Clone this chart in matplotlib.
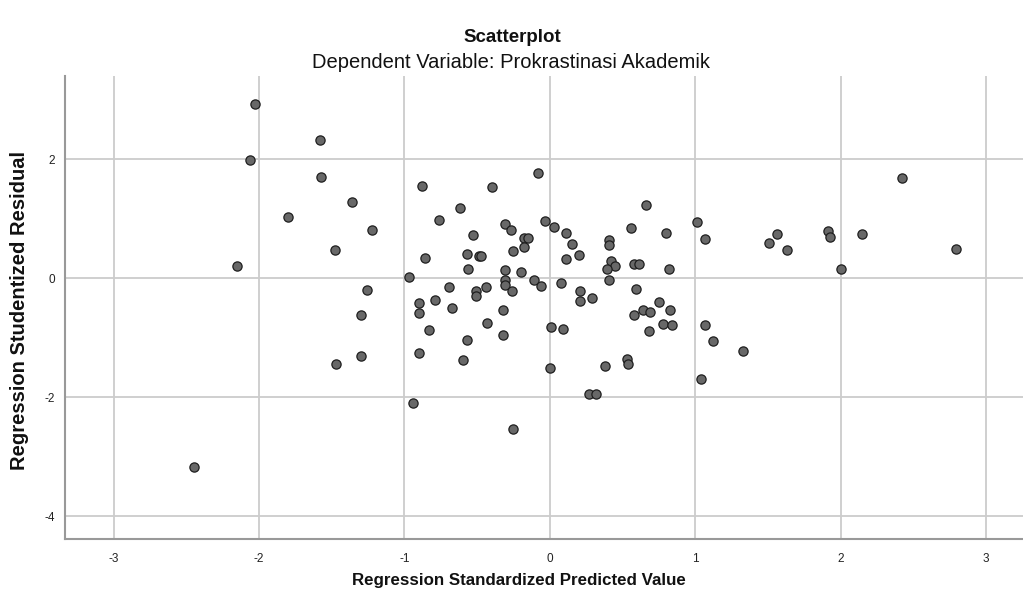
import matplotlib
matplotlib.use("Agg")
import matplotlib.pyplot as plt

plt.rcParams["font.family"] = ["Liberation Sans", "DejaVu Sans"]
plt.rcParams["axes.unicode_minus"] = False

# standardized predicted value (x) and studentized residual (y)
pred = [
    -2.03, -1.58, -2.06, -1.57, -1.36, -1.80, -1.22, -1.48, -2.15, -0.97,
    -1.26, -0.88, -0.08, -0.40, -0.62, 0.66, -0.76, -0.03, 0.03, -0.31,
    -0.27, 0.11, 0.56, 1.01, 0.80, 1.07, -0.53, -0.18, -0.15, 0.15,
    0.41, 0.41, -0.18, -0.25, -0.86, -0.57, -0.49, -0.47, 0.20, 0.11,
    0.42, 0.45, 0.39, 0.58, 0.61, 0.82, -0.56, -0.31, -0.20, -0.31,
    -0.11, -0.31, -0.06, 0.08, 0.41, -0.69, -0.44, -0.51, -0.51, -0.26,
    0.21, 0.59, 0.21, 0.29, -0.90, -0.79, 0.75, -0.90, -0.67, -0.83,
    -0.43, -0.32, -0.57, -0.32, -0.90, -0.60, 0.01, 0.09, 0.00, 0.58,
    0.64, 0.69, 0.83, 0.78, 0.84, 0.68, 0.38, 0.53, 0.54, 0.27,
    0.32, -0.25, -0.94, 1.07, 1.12, 1.33, 1.04, -1.30, -1.30, -1.47,
    -2.45, 2.42, 1.56, 1.51, 1.63, 1.91, 1.93, 2.15, 2.00, 2.79,
]
resid = [
    2.94, 2.32, 1.99, 1.71, 1.29, 1.03, 0.81, 0.48, 0.21, 0.03,
    -0.20, 1.56, 1.77, 1.53, 1.19, 1.23, 0.98, 0.97, 0.87, 0.91,
    0.81, 0.76, 0.85, 0.95, 0.77, 0.66, 0.73, 0.68, 0.68, 0.57,
    0.64, 0.56, 0.52, 0.46, 0.34, 0.41, 0.38, 0.38, 0.39, 0.33,
    0.30, 0.21, 0.15, 0.25, 0.25, 0.16, 0.15, 0.14, 0.10, -0.03,
    -0.02, -0.11, -0.12, -0.08, -0.03, -0.15, -0.15, -0.21, -0.30, -0.21,
    -0.21, -0.18, -0.38, -0.33, -0.41, -0.37, -0.40, -0.58, -0.49, -0.86,
    -0.75, -0.53, -1.04, -0.96, -1.26, -1.37, -0.82, -0.85, -1.50, -0.61,
    -0.54, -0.57, -0.53, -0.76, -0.78, -0.89, -1.47, -1.35, -1.44, -1.95,
    -1.95, -2.54, -2.10, -0.79, -1.06, -1.22, -1.70, -0.61, -1.30, -1.44,
    -3.17, 1.69, 0.75, 0.60, 0.48, 0.80, 0.70, 0.75, 0.16, 0.49,
]
x_ticks = [-3, -2, -1, 0, 1, 2, 3]
y_ticks = [-4, -2, 0, 2]

fig = plt.figure(figsize=(10.23, 6.0), dpi=100)
ax = fig.add_axes([0.0635, 0.101, 0.9365, 0.772])

ax.scatter(pred, resid, s=44, facecolor="#686868", edgecolor="#1e1e1e",
           linewidth=0.9, zorder=3)

ax.set_xlim(-3.334, 3.254)
ax.set_ylim(-4.39, 3.40)
ax.set_xticks(x_ticks)
ax.set_yticks(y_ticks)
ax.grid(True, color="#cccccc", linewidth=1.3, zorder=0)
ax.tick_params(axis="x", length=0, labelsize=8.5, labelcolor="#222222", pad=10)
ax.tick_params(axis="y", length=0, labelsize=8.5, labelcolor="#222222", pad=7)

for side in ["top", "right"]:
    ax.spines[side].set_visible(False)
for side in ["left", "bottom"]:
    ax.spines[side].set_color("#999999")
    ax.spines[side].set_linewidth(1.5)

fig.text(0.501, 0.937, "Scatterplot", ha="center", va="center",
         fontsize=13.5, fontweight="bold", color="#111111")
fig.text(0.500, 0.895, "Dependent Variable: Prokrastinasi Akademik",
         ha="center", va="center", fontsize=14.5, color="#111111")
fig.text(0.507, 0.033, "Regression Standardized Predicted Value",
         ha="center", va="center", fontsize=12.2, fontweight="bold",
         color="#111111")
fig.text(0.019, 0.483, "Regression Studentized Residual", ha="center",
         va="center", rotation=90, fontsize=14.5, fontweight="bold",
         color="#111111")

fig.savefig("out.png", dpi=100)
